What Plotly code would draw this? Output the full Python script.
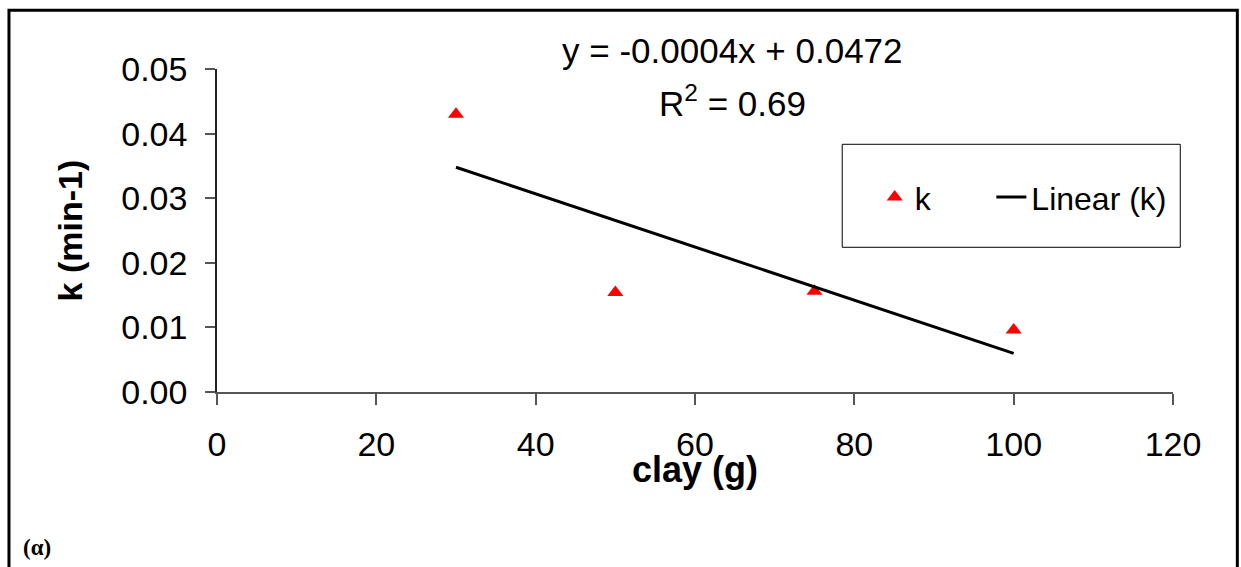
import numpy as np
import plotly.graph_objects as go

# Data
clay_g = [30, 50, 75, 100]
k_values = [0.0430, 0.0154, 0.0156, 0.0096]
x_ticks = [0, 20, 40, 60, 80, 100, 120]
y_ticks = [0.00, 0.01, 0.02, 0.03, 0.04, 0.05]
equation_text = "y = -0.0004x + 0.0472"
r2_text = "R<sup>2</sup> = 0.69"

# linear trendline (least squares) drawn over data range
slope, intercept = np.polyfit(clay_g, k_values, 1)
trend_x = [min(clay_g), max(clay_g)]
trend_y = [slope * xv + intercept for xv in trend_x]

FONT = "Liberation Sans, Arial, sans-serif"

fig = go.Figure()
fig.add_trace(go.Scatter(
    x=clay_g, y=k_values, mode="markers", name="k", legend="legend",
    marker=dict(symbol="triangle-up", size=14, color="#ff0000"),
))
fig.add_trace(go.Scatter(
    x=trend_x, y=trend_y, mode="lines", name="Linear (k)", legend="legend2",
    line=dict(color="black", width=3),
))

legend_common = dict(
    orientation="h", xanchor="left", yanchor="middle", y=0.603,
    bgcolor="rgba(0,0,0,0)", borderwidth=0,
    font=dict(family=FONT, size=32, color="black"),
)

fig.update_layout(
    width=1241, height=567,
    margin=dict(l=217, r=68.3, t=68.7, b=175.3),
    paper_bgcolor="white", plot_bgcolor="white",
    font=dict(family=FONT, color="black", size=32),
    showlegend=True,
    legend=dict(x=0.688, **legend_common),
    legend2=dict(x=0.810, **legend_common),
    xaxis=dict(
        range=[0, 120], tickvals=x_ticks, ticktext=[str(v) for v in x_ticks],
        showgrid=False, zeroline=False, showline=True, linecolor="#555", linewidth=1.5,
        ticks="outside", ticklen=11, tickcolor="#555", tickwidth=1.5,
        tickfont=dict(family=FONT, size=34), ticklabelstandoff=10,
    ),
    yaxis=dict(
        range=[0, 0.05], tickvals=y_ticks, ticktext=[f"{v:.2f}" for v in y_ticks],
        showgrid=False, zeroline=False, showline=True, linecolor="#222", linewidth=1.5,
        ticks="outside", ticklen=10, tickcolor="#555", tickwidth=1.5,
        tickfont=dict(family=FONT, size=34), ticklabelstandoff=11,
    ),
    shapes=[
        dict(type="rect", xref="paper", yref="paper",
             x0=-0.2176, x1=1.0673, y0=-0.65, y1=1.1817,
             line=dict(color="black", width=3), fillcolor="rgba(0,0,0,0)", layer="above"),
        dict(type="rect", xref="paper", yref="paper",
             x0=0.654, x1=1.0076, y0=0.448, y1=0.7669,
             line=dict(color="black", width=1), fillcolor="rgba(0,0,0,0)", layer="below"),
    ],
    annotations=[
        dict(text=equation_text, xref="paper", yref="paper", x=0.5389, y=1.058,
             xanchor="center", yanchor="middle", showarrow=False,
             font=dict(family=FONT, size=35, color="black")),
        dict(text=r2_text, xref="paper", yref="paper", x=0.5389, y=0.9005,
             xanchor="center", yanchor="middle", showarrow=False,
             font=dict(family=FONT, size=35, color="black")),
        dict(text="<b>clay (g)</b>", xref="paper", yref="paper", x=0.5, y=-0.24,
             xanchor="center", yanchor="middle", showarrow=False,
             font=dict(family=FONT, size=36, color="black")),
        dict(text="<b>k (min-1)</b>", xref="paper", yref="paper", x=-0.1538, y=0.5,
             xanchor="center", yanchor="middle", showarrow=False, textangle=-90,
             font=dict(family=FONT, size=34, color="black")),
        dict(text="<b>(α)</b>", xref="paper", yref="paper", x=-0.205, y=-0.481,
             xanchor="left", yanchor="middle", showarrow=False,
             font=dict(family="Liberation Serif, Times New Roman, serif", size=23, color="black")),
    ],
)

fig.write_html("out.html", config={"displayModeBar": False},
               post_script="document.body.style.margin='0';")
